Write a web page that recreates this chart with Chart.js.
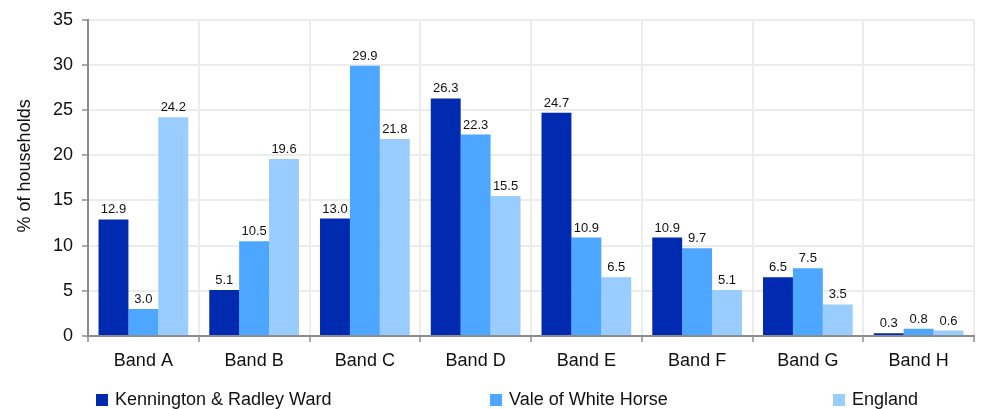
<!DOCTYPE html>
<html>
<head>
<meta charset="utf-8">
<script src="https://cdn.jsdelivr.net/npm/chart.js@4/dist/chart.umd.min.js"></script>
<style>
  html, body { margin: 0; padding: 0; background: #fff; }
  #wrap { position: relative; width: 981px; height: 409px; }
  #legend { position: absolute; left: 0; top: 389px; width: 981px; height: 20px; font-family: "Liberation Sans", Arial, sans-serif; font-size: 18px; color: #111; }
  .li { position: absolute; top: 0; display: flex; align-items: center; white-space: nowrap; line-height: 21px; }
  .sw { width: 12px; height: 12px; margin-right: 7px; }
</style>
</head>
<body>
<div id="wrap">
  <canvas id="c" width="981" height="409"></canvas>
  <div id="legend"></div>
</div>
<script>
const categories = ["Band A", "Band B", "Band C", "Band D", "Band E", "Band F", "Band G", "Band H"];
const seriesNames = ["Kennington & Radley Ward", "Vale of White Horse", "England"];
const kennington = [12.9, 5.1, 13.0, 26.3, 24.7, 10.9, 6.5, 0.3];
const vale = [3.0, 10.5, 29.9, 22.3, 10.9, 9.7, 7.5, 0.8];
const england = [24.2, 19.6, 21.8, 15.5, 6.5, 5.1, 3.5, 0.6];
const yTicks = [0, 5, 10, 15, 20, 25, 30, 35];
const yTitle = "% of households";
const colors = ["#002aaf", "#4da6ff", "#99ccff"];
const legendX = [96, 490, 833];

const FONT = '"Liberation Sans", Arial, sans-serif';

const valueLabels = {
  id: 'valueLabels',
  afterDatasetsDraw(chart) {
    const ctx = chart.ctx;
    ctx.save();
    ctx.font = '13px ' + FONT;
    ctx.fillStyle = '#111';
    ctx.textAlign = 'center';
    ctx.textBaseline = 'alphabetic';
    chart.data.datasets.forEach((ds, i) => {
      const meta = chart.getDatasetMeta(i);
      meta.data.forEach((bar, j) => {
        ctx.fillText(ds.data[j].toFixed(1), bar.x, bar.y - 6);
      });
    });
    ctx.restore();
  }
};

const yTitlePlugin = {
  id: 'yTitlePlugin',
  afterDraw(chart) {
    const ctx = chart.ctx;
    const a = chart.chartArea;
    ctx.save();
    ctx.font = '18px ' + FONT;
    ctx.fillStyle = '#111';
    ctx.textAlign = 'center';
    ctx.textBaseline = 'middle';
    ctx.translate(25, (a.top + a.bottom) / 2 - 12);
    ctx.rotate(-Math.PI / 2);
    ctx.fillText(yTitle, 0, 0);
    ctx.restore();
  }
};

const chart = new Chart(document.getElementById('c'), {
  type: 'bar',
  data: {
    labels: categories,
    datasets: [
      { label: seriesNames[0], data: kennington, backgroundColor: colors[0] },
      { label: seriesNames[1], data: vale, backgroundColor: colors[1] },
      { label: seriesNames[2], data: england, backgroundColor: colors[2] }
    ]
  },
  options: {
    responsive: false,
    animation: false,
    devicePixelRatio: 1,
    layout: { padding: { top: 14, right: 7, bottom: 0, left: 0 } },
    datasets: { bar: { barPercentage: 1.0, categoryPercentage: 0.81 } },
    plugins: { legend: { display: false }, tooltip: { enabled: false } },
    scales: {
      x: {
        grid: { color: '#ececec', lineWidth: 2, tickColor: '#8c8c8c', tickLength: 6, offset: true, tickWidth: 1.5 },
        border: { color: '#8c8c8c', width: 2 },
        ticks: { color: '#111', font: { family: FONT, size: 18 }, padding: 8 },
        afterFit(s) { s.height = 73; }
      },
      y: {
        min: 0, max: 35,
        afterBuildTicks(s) { s.ticks = yTicks.map(v => ({ value: v })); },
        grid: { color: '#ececec', lineWidth: 2, tickColor: '#8c8c8c', tickLength: 6, tickWidth: 1.5 },
        border: { color: '#8c8c8c', width: 2 },
        ticks: { color: '#111', font: { family: FONT, size: 18 }, padding: 9 },
        title: { display: false },
        afterFit(s) { s.width = 88; }
      }
    }
  },
  plugins: [valueLabels, yTitlePlugin]
});

const leg = document.getElementById('legend');
chart.data.datasets.forEach((ds, i) => {
  const d = document.createElement('div');
  d.className = 'li';
  d.style.left = legendX[i] + 'px';
  const sw = document.createElement('span');
  sw.className = 'sw';
  sw.style.background = ds.backgroundColor;
  const t = document.createElement('span');
  t.textContent = ds.label;
  d.appendChild(sw); d.appendChild(t);
  leg.appendChild(d);
});
</script>
</body>
</html>
